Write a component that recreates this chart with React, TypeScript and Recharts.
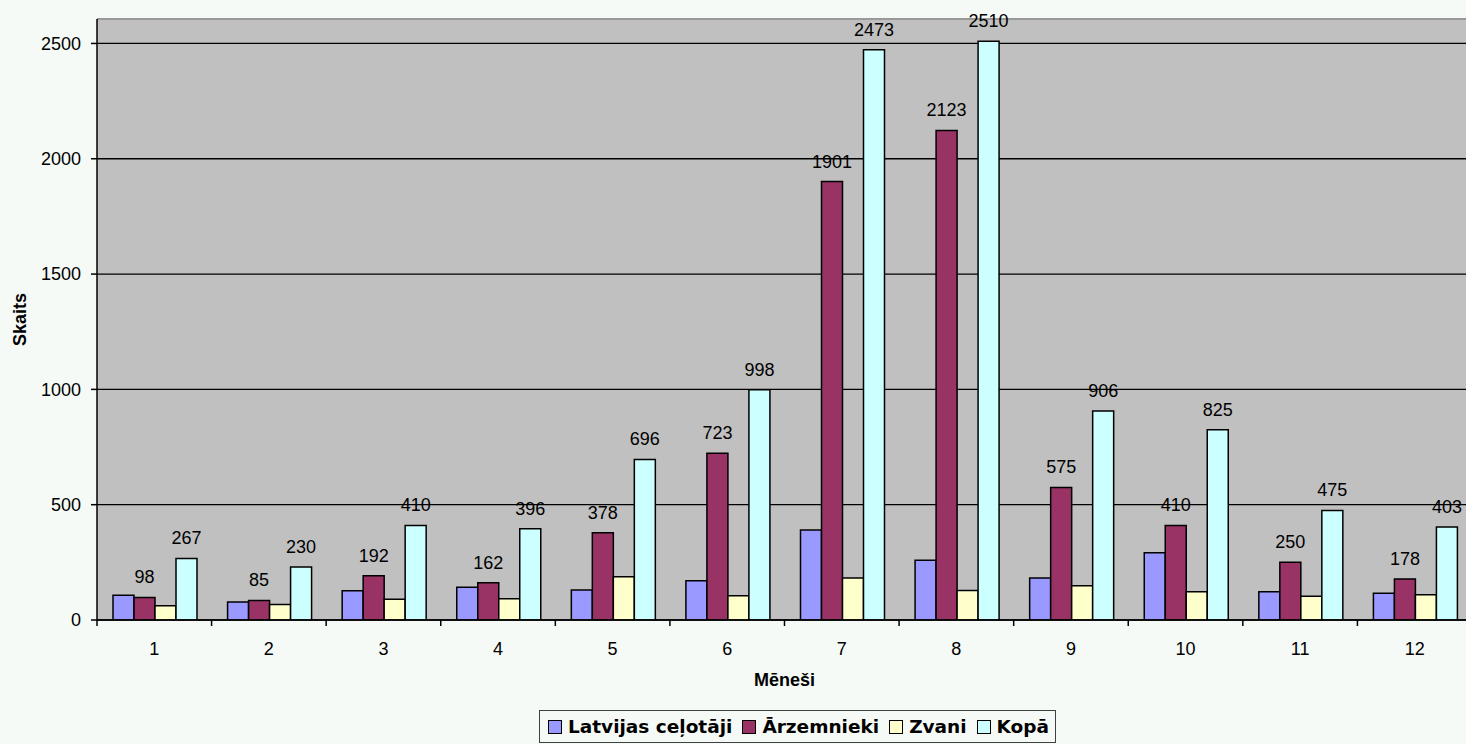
import React from 'react';
import { BarChart, Bar, XAxis, YAxis, CartesianGrid, LabelList, ReferenceLine } from 'recharts';

const months = ['1', '2', '3', '4', '5', '6', '7', '8', '9', '10', '11', '12'];
const latvian = [107, 78, 127, 142, 130, 170, 390, 259, 182, 292, 122, 116];
const foreign = [98, 85, 192, 162, 378, 723, 1901, 2123, 575, 410, 250, 178];
const calls = [62, 67, 90, 92, 188, 105, 182, 128, 149, 123, 103, 109];
const total = [267, 230, 410, 396, 696, 998, 2473, 2510, 906, 825, 475, 403];

const yTicks = [0, 500, 1000, 1500, 2000, 2500];
const yMax = 2606;

const seriesNames = ['Latvijas ceļotāji', 'Ārzemnieki', 'Zvani', 'Kopā'];
const seriesColors = ['#9999FF', '#993366', '#FFFFCC', '#CCFFFF'];

const data = months.map((m, i) => ({
  month: m,
  latvian: latvian[i],
  foreign: foreign[i],
  calls: calls[i],
  total: total[i],
}));

const FONT = '"Liberation Sans", Arial, sans-serif';

const CatTick = (props: any) => {
  const { x, y, payload } = props;
  const half = payload && typeof payload.offset === 'number' ? payload.offset : 0;
  const lineTop = y - 22;
  return (
    <g>
      <line x1={x - half} x2={x - half} y1={lineTop} y2={lineTop + 6} stroke="#000" strokeWidth={1.5} />
      <text x={x} y={y} dy="0.71em" textAnchor="middle" fontSize={18} fontFamily={FONT} fill="#000">
        {payload.value}
      </text>
    </g>
  );
};

const XTitle = (props: any) => {
  const vb = props.viewBox;
  return (
    <text x={vb.x + vb.width / 2} y={vb.y + 66} textAnchor="middle" fontSize={18} fontWeight="bold" fontFamily={FONT} fill="#000">
      Mēneši
    </text>
  );
};

const YTitle = (props: any) => {
  const vb = props.viewBox;
  const cx = 20;
  const cy = vb.y + vb.height / 2;
  return (
    <text x={cx} y={cy} transform={`rotate(-90 ${cx} ${cy})`} textAnchor="middle" dominantBaseline="central" fontSize={18} fontWeight="bold" fontFamily={FONT} fill="#000">
      Skaits
    </text>
  );
};

export default function App() {
  return (
    <div style={{ position: 'absolute', left: 0, top: 0, width: 1466, height: 744, overflow: 'hidden', background: '#F6FAF6' }}>
      <BarChart width={1472} height={744} data={data} margin={{ top: 19, right: 0, left: 0, bottom: 0 }} barCategoryGap={16} barGap={0}>
        <CartesianGrid vertical={false} stroke="#000" strokeWidth={1.3} fill="#C0C0C0" fillOpacity={1} />
        <ReferenceLine y={yMax} stroke="#999999" strokeWidth={2} />
        <XAxis
          dataKey="month"
          height={124}
          tickSize={6}
          tickMargin={16}
          tickLine={false}
          axisLine={{ stroke: '#000', strokeWidth: 1.5 }}
          tick={<CatTick />}
          interval={0}
          label={<XTitle />}
        />
        <YAxis
          width={97}
          domain={[0, yMax]}
          ticks={yTicks}
          allowDataOverflow
          tickSize={6}
          tickMargin={10}
          tickLine={{ stroke: '#000', strokeWidth: 1.5 }}
          axisLine={{ stroke: '#000', strokeWidth: 1.5 }}
          tick={{ fontSize: 18, fontFamily: FONT, fill: '#000' }}
          label={<YTitle />}
        />
        <Bar dataKey="latvian" name={seriesNames[0]} fill={seriesColors[0]} stroke="#000" strokeWidth={1.5} isAnimationActive={false} />
        <Bar dataKey="foreign" name={seriesNames[1]} fill={seriesColors[1]} stroke="#000" strokeWidth={1.5} isAnimationActive={false}>
          <LabelList dataKey="foreign" position="top" offset={14} fontSize={18} fontFamily={FONT} fill="#000" />
        </Bar>
        <Bar dataKey="calls" name={seriesNames[2]} fill={seriesColors[2]} stroke="#000" strokeWidth={1.5} isAnimationActive={false} />
        <Bar dataKey="total" name={seriesNames[3]} fill={seriesColors[3]} stroke="#000" strokeWidth={1.5} isAnimationActive={false}>
          <LabelList dataKey="total" position="top" offset={14} fontSize={18} fontFamily={FONT} fill="#000" />
        </Bar>
      </BarChart>
      <div
        style={{
          position: 'absolute',
          left: 539,
          top: 710,
          width: 517,
          height: 33,
          boxSizing: 'border-box',
          border: '1px solid #404040',
          display: 'flex',
          alignItems: 'center',
          paddingLeft: 8,
          fontFamily: '"DejaVu Sans", Verdana, sans-serif',
          fontWeight: 'bold',
          fontSize: 18.5,
          color: '#000',
          whiteSpace: 'nowrap',
        }}
      >
        {seriesNames.map((n, i) => (
          <div key={n} style={{ display: 'flex', alignItems: 'center', marginRight: 10 }}>
            <span
              style={{
                display: 'inline-block',
                width: 14,
                height: 14,
                boxSizing: 'border-box',
                border: '1px solid #000',
                background: seriesColors[i],
                marginRight: 6,
              }}
            />
            <span>{n}</span>
          </div>
        ))}
      </div>
    </div>
  );
}
